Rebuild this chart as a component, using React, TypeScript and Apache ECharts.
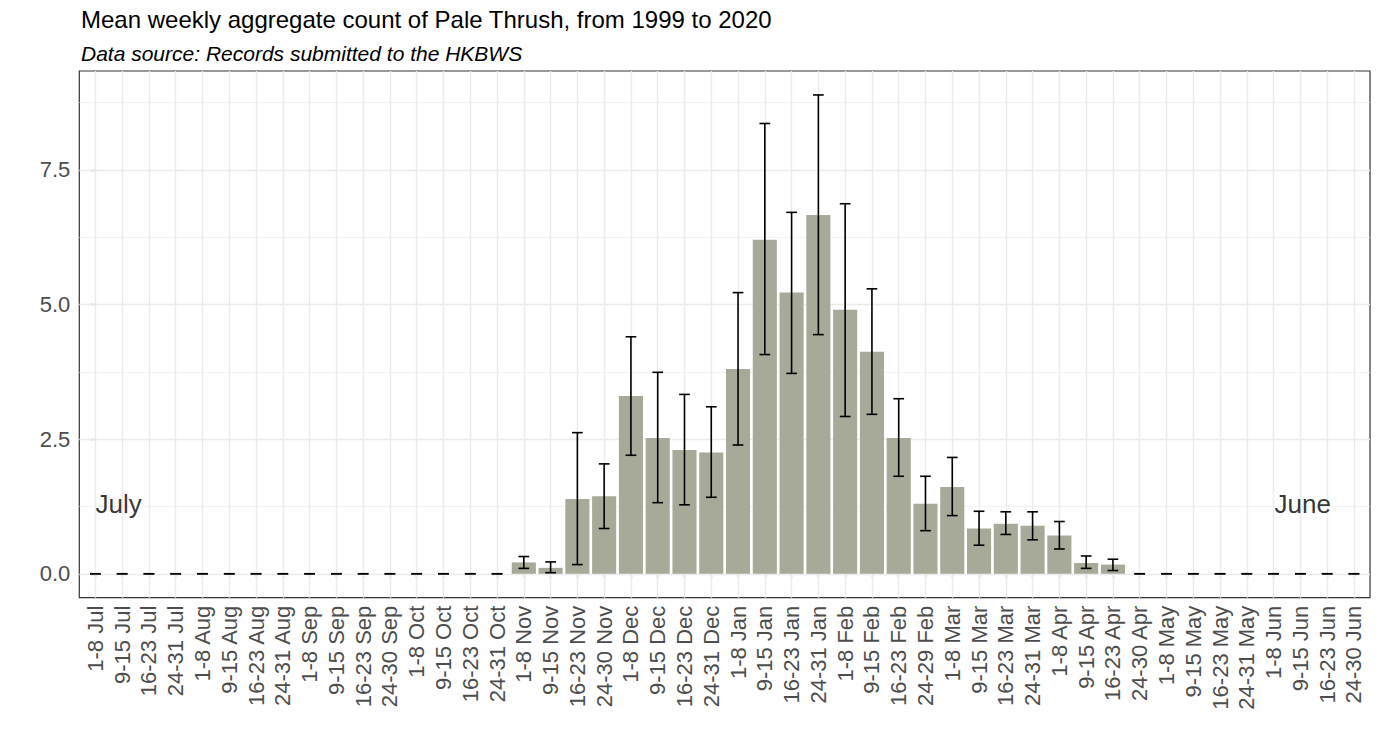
import React, { useEffect, useRef } from "react";
import * as echarts from "echarts";

const categories = [
  "1-8 Jul", "9-15 Jul", "16-23 Jul", "24-31 Jul",
  "1-8 Aug", "9-15 Aug", "16-23 Aug", "24-31 Aug",
  "1-8 Sep", "9-15 Sep", "16-23 Sep", "24-30 Sep",
  "1-8 Oct", "9-15 Oct", "16-23 Oct", "24-31 Oct",
  "1-8 Nov", "9-15 Nov", "16-23 Nov", "24-30 Nov",
  "1-8 Dec", "9-15 Dec", "16-23 Dec", "24-31 Dec",
  "1-8 Jan", "9-15 Jan", "16-23 Jan", "24-31 Jan",
  "1-8 Feb", "9-15 Feb", "16-23 Feb", "24-29 Feb",
  "1-8 Mar", "9-15 Mar", "16-23 Mar", "24-31 Mar",
  "1-8 Apr", "9-15 Apr", "16-23 Apr", "24-30 Apr",
  "1-8 May", "9-15 May", "16-23 May", "24-31 May",
  "1-8 Jun", "9-15 Jun", "16-23 Jun", "24-30 Jun",
];

const meanCounts = [
  0, 0, 0, 0, 0, 0, 0, 0, 0, 0, 0, 0, 0, 0, 0, 0,
  0.21, 0.11, 1.39, 1.44,
  3.3, 2.52, 2.3, 2.25,
  3.8, 6.2, 5.22, 6.66,
  4.9, 4.12, 2.52, 1.3,
  1.61, 0.84, 0.93, 0.89,
  0.71, 0.2, 0.17, 0,
  0, 0, 0, 0, 0, 0, 0, 0,
];

const lowerBounds = [
  0, 0, 0, 0, 0, 0, 0, 0, 0, 0, 0, 0, 0, 0, 0, 0,
  0.1, 0.02, 0.17, 0.84,
  2.2, 1.32, 1.28, 1.42,
  2.39, 4.07, 3.72, 4.44,
  2.92, 2.96, 1.81, 0.8,
  1.08, 0.53, 0.73, 0.63,
  0.46, 0.1, 0.06, 0,
  0, 0, 0, 0, 0, 0, 0, 0,
];

const upperBounds = [
  0, 0, 0, 0, 0, 0, 0, 0, 0, 0, 0, 0, 0, 0, 0, 0,
  0.32, 0.22, 2.62, 2.04,
  4.4, 3.74, 3.33, 3.1,
  5.22, 8.36, 6.71, 8.89,
  6.87, 5.29, 3.25, 1.81,
  2.16, 1.16, 1.15, 1.15,
  0.97, 0.33, 0.27, 0,
  0, 0, 0, 0, 0, 0, 0, 0,
];

const yMajorBreaks = [0, 2.5, 5, 7.5];
const yTickLabels = ["0.0", "2.5", "5.0", "7.5"];
const yMinorBreaks = [1.25, 3.75, 6.25, 8.75];

const monthNotes = ["July", "June"];
const monthNoteX = [0.87, 45.09];
const monthNoteY = [1.3, 1.3];

const titleText = "Mean weekly aggregate count of Pale Thrush, from 1999 to 2020";
const subtitleText = "Data source: Records submitted to the HKBWS";

const FONT = "'Liberation Sans', Arial, Helvetica, sans-serif";

export default function App() {
  const ref = useRef<HTMLDivElement | null>(null);

  useEffect(() => {
    if (!ref.current) return;
    const chart = echarts.init(ref.current, undefined, { renderer: "svg" });

    const idx = categories.map((_, i) => i);
    const yMin = -0.4445;
    const yMax = 9.3345;

    const gridLines: any[] = [];
    idx.forEach((i) =>
      gridLines.push({ xAxis: i, lineStyle: { color: "#EBEBEB", width: 1.4, type: "solid" } })
    );
    yMajorBreaks.forEach((v) =>
      gridLines.push({ yAxis: v, lineStyle: { color: "#EBEBEB", width: 1.4, type: "solid" } })
    );
    yMinorBreaks.forEach((v) =>
      gridLines.push({ yAxis: v, lineStyle: { color: "#EFEFEF", width: 0.8, type: "solid" } })
    );

    const option: any = {
      animation: false,
      backgroundColor: "#FFFFFF",
      textStyle: { fontFamily: FONT },
      title: [
        {
          text: titleText,
          left: 76,
          top: 2,
          padding: 5,
          textStyle: { fontFamily: FONT, fontSize: 24, fontWeight: "normal", color: "#000000" },
        },
        {
          text: subtitleText,
          left: 76,
          top: 38,
          padding: 5,
          textStyle: {
            fontFamily: FONT,
            fontSize: 21,
            fontWeight: "normal",
            fontStyle: "italic",
            color: "#000000",
          },
        },
      ],
      grid: {
        left: 79.3,
        right: 10,
        top: 71,
        bottom: 153.3,
        show: true,
        borderColor: "#333333",
        borderWidth: 1.2,
        backgroundColor: "transparent",
        containLabel: false,
      },
      xAxis: {
        type: "value",
        min: -0.6,
        max: 47.6,
        axisLine: { show: false },
        splitLine: { show: false },
        axisTick: {
          show: true,
          customValues: idx,
          length: 4,
          lineStyle: { color: "#333333", width: 1.2 },
        },
        axisLabel: {
          show: true,
          customValues: idx,
          rotate: 90,
          margin: 8,
          fontSize: 22,
          fontFamily: FONT,
          color: "#4D4D4D",
          formatter: (v: number) => categories[Math.round(v)] ?? "",
        },
      },
      yAxis: {
        type: "value",
        min: yMin,
        max: yMax,
        axisLine: { show: false },
        splitLine: { show: false },
        axisTick: {
          show: true,
          customValues: yMajorBreaks,
          length: 4,
          lineStyle: { color: "#333333", width: 1.2 },
        },
        axisLabel: {
          show: true,
          customValues: yMajorBreaks,
          margin: 9,
          fontSize: 22,
          fontFamily: FONT,
          color: "#4D4D4D",
          formatter: (v: number) => {
            const k = yMajorBreaks.findIndex((b) => Math.abs(b - v) < 1e-6);
            return k >= 0 ? yTickLabels[k] : "";
          },
        },
      },
      series: [
        {
          type: "bar",
          name: "mean",
          z: 2,
          barWidth: "90%",
          itemStyle: { color: "#A7A999" },
          data: meanCounts.map((v, i) => [i, v]),
          markLine: {
            silent: true,
            z: 1,
            symbol: ["none", "none"],
            label: { show: false },
            emphasis: { disabled: true },
            data: gridLines,
          },
        },
        {
          type: "custom",
          name: "error",
          z: 3,
          data: idx.map((i) => [i, lowerBounds[i], upperBounds[i]]),
          encode: { x: 0, y: [1, 2] },
          renderItem: (params: any, api: any) => {
            const x = api.value(0);
            const lo = api.value(1);
            const hi = api.value(2);
            const pLo = api.coord([x, lo]);
            const pHi = api.coord([x, hi]);
            const half = api.size([1, 0])[0] * 0.2;
            const style = { stroke: "#000000", lineWidth: 1.6 };
            return {
              type: "group",
              children: [
                { type: "line", shape: { x1: pLo[0], y1: pLo[1], x2: pHi[0], y2: pHi[1] }, style },
                { type: "line", shape: { x1: pHi[0] - half, y1: pHi[1], x2: pHi[0] + half, y2: pHi[1] }, style },
                { type: "line", shape: { x1: pLo[0] - half, y1: pLo[1], x2: pLo[0] + half, y2: pLo[1] }, style },
              ],
            };
          },
        },
        {
          type: "scatter",
          name: "months",
          z: 4,
          symbol: "circle",
          symbolSize: 1,
          itemStyle: { color: "rgba(0,0,0,0)" },
          silent: true,
          data: monthNotes.map((_, i) => [monthNoteX[i], monthNoteY[i]]),
          label: {
            show: true,
            position: "inside",
            fontFamily: FONT,
            fontSize: 26,
            color: "#000000",
            formatter: (p: any) => monthNotes[p.dataIndex],
          },
        },
      ],
    };

    chart.setOption(option);
    return () => {
      chart.dispose();
    };
  }, []);

  return (
    <div
      ref={ref}
      style={{ position: "fixed", left: 0, top: 0, width: 1380, height: 751, background: "#fff" }}
    />
  );
}
